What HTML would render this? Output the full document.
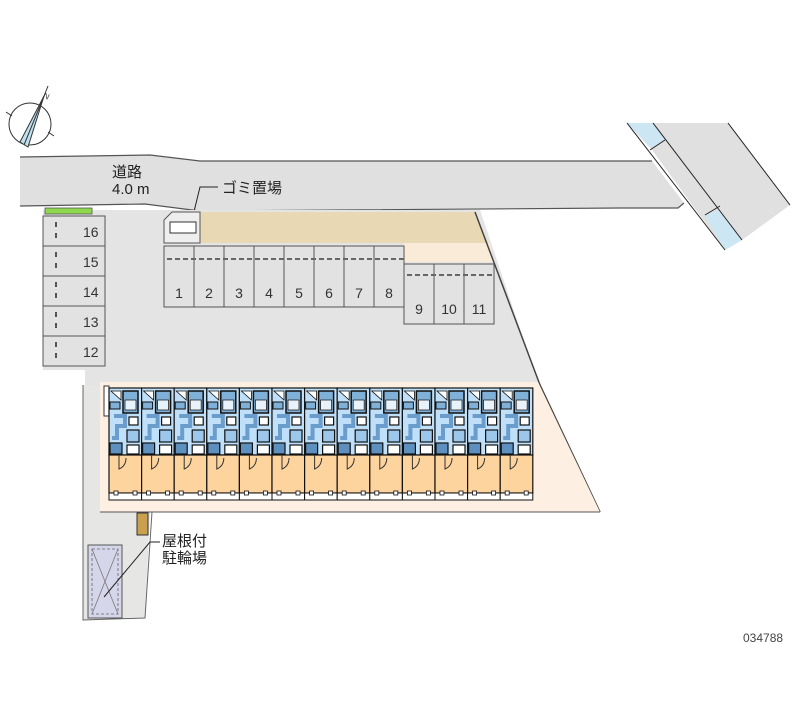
<!DOCTYPE html>
<html><head><meta charset="utf-8"><style>
body{margin:0;background:#fff;}
svg{display:block;}
text{font-family:"Liberation Sans","Noto Sans CJK JP",sans-serif;}
</style></head><body>
<svg width="800" height="727" viewBox="0 0 800 727" xmlns="http://www.w3.org/2000/svg">
<defs>
<g id="unit">
 <rect x="0" y="0" width="32.6" height="67" fill="#bfe0f8" stroke="#111" stroke-width="1.2"/>
 <rect x="0" y="67" width="32.6" height="38" fill="#fdd39e" stroke="#111" stroke-width="1.2"/>
 <rect x="0" y="105" width="32.6" height="7" fill="#fff" stroke="#111" stroke-width="1"/>
 <rect x="14" y="3" width="15" height="22" fill="#7fb0d8" stroke="#111" stroke-width="1.5"/>
 <rect x="16" y="12" width="11" height="10" fill="#e8f2fb" stroke="#222" stroke-width="0.8"/>
 <path d="M2 3 L12 3 L12 12 Z" fill="#fff" stroke="#111" stroke-width="0.8"/>
 <rect x="1" y="14" width="10" height="7" fill="#7fb0d8" stroke="#111" stroke-width="1"/>
 <path d="M5 28 L16 28 L16 38 L8 38 L8 50 L3 50" fill="none" stroke="#6a9ccc" stroke-width="4"/>
 <rect x="20" y="29" width="9" height="8" fill="#fff" stroke="#111" stroke-width="1.2"/>
 <rect x="18" y="42" width="12" height="12" fill="#9cc6ea" stroke="#111" stroke-width="1.2"/>
 <rect x="1" y="55" width="12" height="11" fill="#5d8fbf" stroke="#111" stroke-width="1.2"/>
 <rect x="18" y="57" width="12" height="9" fill="#fff" stroke="#111" stroke-width="1.2"/>
 <path d="M10 67 L10 81 Q17 78 17 70" fill="none" stroke="#333" stroke-width="1"/>
 <rect x="5" y="103" width="4" height="4" fill="#fff" stroke="#111" stroke-width="0.8"/>
 <rect x="24" y="103" width="4" height="4" fill="#fff" stroke="#111" stroke-width="0.8"/>
</g>
</defs>

<!-- compass -->
<g stroke="#333" stroke-width="1" fill="none">
 <circle cx="30" cy="124" r="21"/>
 <polygon points="44,96 20,142 28,147" fill="#bfe0f0"/>
 <line x1="44" y1="96" x2="24" y2="145"/>
 <line x1="6" y1="112" x2="12" y2="116"/><line x1="48" y1="132" x2="54" y2="136"/>
 <line x1="44" y1="96" x2="48" y2="86"/>
</g>
<text x="44" y="99" font-size="8" fill="#333" transform="rotate(25 47 95)">N</text>

<!-- diagonal road on right -->
<polygon points="627,123 728,123 790,205 742,240 725,250 652,150" fill="#e0e0e0"/>
<polygon points="627,123 654,123 665,140 651,148" fill="#cde6f4"/>
<polygon points="705,215 720,210 742,240 725,250" fill="#cde6f4"/>
<g stroke="#222" stroke-width="1"><line x1="627" y1="123" x2="725" y2="250"/><line x1="653" y1="123" x2="742" y2="240"/><line x1="728" y1="123" x2="790" y2="205"/><line x1="650" y1="150" x2="665" y2="140"/><line x1="705" y1="215" x2="720" y2="206"/></g>

<!-- main road -->
<polygon points="20,157 150,155 200,161 652,161 684,203 678,208 620,208 200,211 150,204 20,206" fill="#e0e0e0"/>
<polyline points="20,157 150,155 200,161 652,161" fill="none" stroke="#555" stroke-width="1.2"/>
<polyline points="20,206 145,204 200,211 620,208 678,208 684,203" fill="none" stroke="#555" stroke-width="1.2"/>
<text x="112" y="177" font-size="15" fill="#222">道路</text>
<text x="112" y="194" font-size="15" fill="#222">4.0 m</text>
<text x="222" y="193" font-size="15" fill="#222">ゴミ置場</text>
<polyline points="218,187 200,187 190,228" fill="none" stroke="#222" stroke-width="1"/>

<!-- lot -->
<polygon points="43,210 480,210 540,388 85,388 85,370 43,370" fill="#e4e4e4"/>
<polygon points="200,212 475,212 488,243 200,243" fill="#e9d8b4"/>
<polygon points="404,243 490,243 493,262 404,262" fill="#faebd8"/>
<polyline points="475,212 540,385 600,512" fill="none" stroke="#444" stroke-width="1.5"/>
<polygon points="83,385 100,385 100,512 150,512 145,618 83,620" fill="#e6e6e4"/>
<polygon points="100,382 538,382 600,512 100,512" fill="#fdf0e2"/>
<polyline points="100,512 600,512" stroke="#555" stroke-width="1" fill="none"/>
<polyline points="83,385 83,620 145,618 152,512" fill="none" stroke="#666" stroke-width="1"/>
<rect x="45" y="208" width="47" height="6" fill="#8ed84e" stroke="#555" stroke-width="0.8"/>

<!-- parking 12-16 -->
<g stroke="#555" stroke-width="1" fill="#e2e2e2">
<rect x="43" y="216" width="62" height="30"/><rect x="43" y="246" width="62" height="30"/><rect x="43" y="276" width="62" height="30"/><rect x="43" y="306" width="62" height="30"/><rect x="43" y="336" width="62" height="30"/>
</g>
<g font-size="14" fill="#333">
<text x="83" y="237">16</text><text x="83" y="267">15</text><text x="83" y="297">14</text><text x="83" y="327">13</text><text x="83" y="357">12</text>
</g>
<g fill="#555"><rect x="55" y="222" width="2" height="5"/><rect x="55" y="233" width="2" height="5"/><rect x="55" y="252" width="2" height="5"/><rect x="55" y="263" width="2" height="5"/><rect x="55" y="282" width="2" height="5"/><rect x="55" y="293" width="2" height="5"/><rect x="55" y="312" width="2" height="5"/><rect x="55" y="323" width="2" height="5"/><rect x="55" y="342" width="2" height="5"/><rect x="55" y="353" width="2" height="5"/></g>

<!-- garbage -->
<polygon points="164,220 172,212 200,212 200,243 164,243" fill="#eeeeee" stroke="#555" stroke-width="1"/>
<rect x="170" y="222" width="26" height="11" fill="#fff" stroke="#333" stroke-width="1"/>

<!-- parking 1-8 -->
<g stroke="#555" stroke-width="1" fill="#e2e2e2">
<rect x="164" y="246" width="30" height="61"/><rect x="194" y="246" width="30" height="61"/><rect x="224" y="246" width="30" height="61"/><rect x="254" y="246" width="30" height="61"/><rect x="284" y="246" width="30" height="61"/><rect x="314" y="246" width="30" height="61"/><rect x="344" y="246" width="30" height="61"/><rect x="374" y="246" width="30" height="61"/>
<rect x="404" y="264" width="30" height="60"/><rect x="434" y="264" width="30" height="60"/><rect x="464" y="264" width="30" height="60"/>
</g>
<g stroke="#666" stroke-width="2" stroke-dasharray="5,3">
<line x1="167" y1="259" x2="404" y2="259"/><line x1="407" y1="275" x2="494" y2="275"/>
</g>
<g font-size="14" fill="#333" text-anchor="middle">
<text x="179" y="298">1</text><text x="209" y="298">2</text><text x="239" y="298">3</text><text x="269" y="298">4</text><text x="299" y="298">5</text><text x="329" y="298">6</text><text x="359" y="298">7</text><text x="389" y="298">8</text>
<text x="419" y="314">9</text><text x="449" y="314">10</text><text x="479" y="314">11</text>
</g>

<!-- building -->
<rect x="104" y="386" width="5" height="30" fill="#fff" stroke="#333" stroke-width="1"/>
<g transform="translate(109,388)">
<use href="#unit" x="0"/><use href="#unit" x="32.6"/><use href="#unit" x="65.2"/><use href="#unit" x="97.8"/><use href="#unit" x="130.4"/><use href="#unit" x="163"/><use href="#unit" x="195.6"/><use href="#unit" x="228.2"/><use href="#unit" x="260.8"/><use href="#unit" x="293.4"/><use href="#unit" x="326"/><use href="#unit" x="358.6"/><use href="#unit" x="391.2"/>
</g>

<!-- bike parking -->
<rect x="137" y="513" width="11" height="22" fill="#c8a050" stroke="#333" stroke-width="1"/>
<rect x="88" y="545" width="34" height="73" fill="#d6d6ea" stroke="#555" stroke-width="1"/>
<rect x="92" y="549" width="26" height="65" fill="none" stroke="#666" stroke-width="0.8" stroke-dasharray="3,2"/>
<line x1="92" y1="549" x2="118" y2="614" stroke="#777" stroke-width="0.8"/><line x1="118" y1="549" x2="92" y2="614" stroke="#777" stroke-width="0.8"/>
<polyline points="104,597 150,542 160,542" fill="none" stroke="#222" stroke-width="1"/>
<text x="162" y="546" font-size="15" fill="#222">屋根付</text>
<text x="162" y="563" font-size="15" fill="#222">駐輪場</text>

<text x="743" y="642" font-size="12" fill="#444">034788</text>
</svg>
</body></html>
